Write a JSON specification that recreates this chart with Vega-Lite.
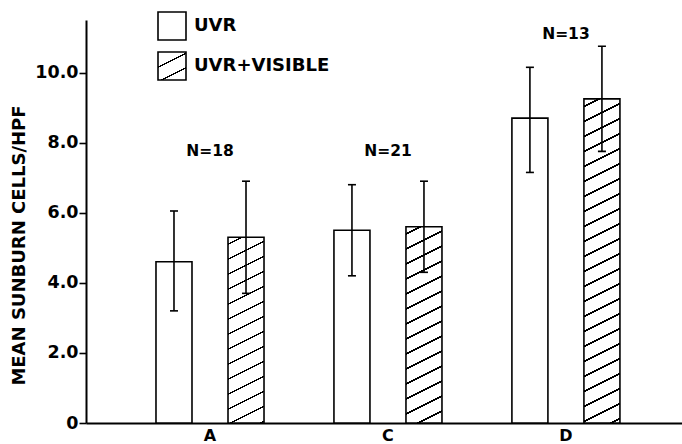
{
  "$schema": "https://vega.github.io/schema/vega-lite/v6.json",
  "autosize": {"type": "none"},
  "padding": {"left": 86, "top": 20, "right": 0, "bottom": 21},
  "width": 596,
  "height": 403,
  "background": "white",
  "config": {
    "view": {"stroke": null},
    "axis": {"domainColor": "black", "tickColor": "black", "labelColor": "black", "titleColor": "black", "grid": false,
      "labelFont": "DejaVu Sans", "labelFontWeight": "bold", "titleFont": "DejaVu Sans", "titleFontWeight": "bold"},
    "text": {"font": "DejaVu Sans"}
  },
  "data": {"values": [
    {"group": "A", "treatment": "UVR", "mean": 4.6, "lo": 3.2, "hi": 6.05},
    {"group": "A", "treatment": "UVR+VISIBLE", "mean": 5.3, "lo": 3.7, "hi": 6.9},
    {"group": "C", "treatment": "UVR", "mean": 5.5, "lo": 4.2, "hi": 6.8},
    {"group": "C", "treatment": "UVR+VISIBLE", "mean": 5.6, "lo": 4.3, "hi": 6.9},
    {"group": "D", "treatment": "UVR", "mean": 8.7, "lo": 7.15, "hi": 10.15},
    {"group": "D", "treatment": "UVR+VISIBLE", "mean": 9.25, "lo": 7.75, "hi": 10.75}
  ]},
  "encoding": {
    "x": {"field": "group", "type": "nominal", "sort": ["A", "C", "D"],
      "scale": {"paddingInner": 0.393, "paddingOuter": 0.371, "align": 0.53},
      "axis": {"title": null, "ticks": false, "labelAngle": 0, "labelFontSize": 16, "labelPadding": 4, "domainWidth": 2}},
    "y": {"type": "quantitative",
      "scale": {"domain": [0, 11.5], "nice": false, "zero": true},
      "axis": {"values": [0, 2, 4, 6, 8, 10], "labelExpr": "datum.value == 0 ? '0' : format(datum.value, '.1f')",
        "title": "MEAN SUNBURN CELLS/HPF", "titleFontSize": 18, "titleAngle": 270, "titleX": -67, "titleY": 225,
        "titleAlign": "center", "titleBaseline": "middle",
        "labelFontSize": 17.5, "labelPadding": 1, "tickSize": 7, "tickWidth": 1.6, "domainWidth": 2}}
  },
  "layer": [
    {
      "mark": {"type": "bar", "stroke": "black", "strokeWidth": 1.6},
      "encoding": {
        "xOffset": {"field": "treatment", "type": "nominal", "sort": ["UVR", "UVR+VISIBLE"], "scale": {"paddingInner": 0.5, "paddingOuter": 0}},
        "y": {"field": "mean", "type": "quantitative"},
        "fill": {
          "field": "treatment", "type": "nominal",
          "scale": {"domain": ["UVR", "UVR+VISIBLE"], "range": ["white", {"expr": "{gradient: 'linear', x1: 0, y1: 0, x2: 0.6, y2: 1.2, stops: [{offset: 0, color: 'white'}, {offset: 0.34, color: 'white'}, {offset: 0.34, color: 'black'}, {offset: 0.38, color: 'black'}, {offset: 0.38, color: 'white'}, {offset: 0.69, color: 'white'}, {offset: 0.69, color: 'black'}, {offset: 0.73, color: 'black'}, {offset: 0.73, color: 'white'}, {offset: 1, color: 'white'}]}"}]},
          "legend": {
            "orient": "none", "legendX": 71, "legendY": -9, "title": null,
            "symbolType": "square", "symbolSize": 784, "symbolStrokeColor": "black", "symbolStrokeWidth": 1.6,
            "symbolOpacity": 1,
            "labelFont": "DejaVu Sans", "labelFontWeight": "bold", "labelFontSize": 18, "labelColor": "black",
            "labelOffset": 7, "rowPadding": 4, "padding": 0
          },
          "condition": [
            {"test": "datum.group === 'A' && datum.treatment === 'UVR+VISIBLE'",
             "value": {"gradient": "linear", "x1": 0, "y1": 0, "x2": 0.10534, "y2": 1.08672, "stops": [
              {"offset": 0, "color": "white"},
              {"offset": 0.03, "color": "white"}, {"offset": 0.03, "color": "black"}, {"offset": 0.038, "color": "black"}, {"offset": 0.038, "color": "white"},
              {"offset": 0.1036, "color": "white"}, {"offset": 0.1036, "color": "black"}, {"offset": 0.1116, "color": "black"}, {"offset": 0.1116, "color": "white"},
              {"offset": 0.1773, "color": "white"}, {"offset": 0.1773, "color": "black"}, {"offset": 0.1853, "color": "black"}, {"offset": 0.1853, "color": "white"},
              {"offset": 0.2509, "color": "white"}, {"offset": 0.2509, "color": "black"}, {"offset": 0.2589, "color": "black"}, {"offset": 0.2589, "color": "white"},
              {"offset": 0.3246, "color": "white"}, {"offset": 0.3246, "color": "black"}, {"offset": 0.3326, "color": "black"}, {"offset": 0.3326, "color": "white"},
              {"offset": 0.3982, "color": "white"}, {"offset": 0.3982, "color": "black"}, {"offset": 0.4062, "color": "black"}, {"offset": 0.4062, "color": "white"},
              {"offset": 0.4718, "color": "white"}, {"offset": 0.4718, "color": "black"}, {"offset": 0.4798, "color": "black"}, {"offset": 0.4798, "color": "white"},
              {"offset": 0.5455, "color": "white"}, {"offset": 0.5455, "color": "black"}, {"offset": 0.5535, "color": "black"}, {"offset": 0.5535, "color": "white"},
              {"offset": 0.6191, "color": "white"}, {"offset": 0.6191, "color": "black"}, {"offset": 0.6271, "color": "black"}, {"offset": 0.6271, "color": "white"},
              {"offset": 0.6928, "color": "white"}, {"offset": 0.6928, "color": "black"}, {"offset": 0.7008, "color": "black"}, {"offset": 0.7008, "color": "white"},
              {"offset": 0.7664, "color": "white"}, {"offset": 0.7664, "color": "black"}, {"offset": 0.7744, "color": "black"}, {"offset": 0.7744, "color": "white"},
              {"offset": 0.84, "color": "white"}, {"offset": 0.84, "color": "black"}, {"offset": 0.848, "color": "black"}, {"offset": 0.848, "color": "white"},
              {"offset": 0.9137, "color": "white"}, {"offset": 0.9137, "color": "black"}, {"offset": 0.9217, "color": "black"}, {"offset": 0.9217, "color": "white"},
              {"offset": 0.9873, "color": "white"}, {"offset": 0.9873, "color": "black"}, {"offset": 0.9953, "color": "black"}, {"offset": 0.9953, "color": "white"},
              {"offset": 1, "color": "white"}
            ]}},
            {"test": "datum.group === 'C' && datum.treatment === 'UVR+VISIBLE'",
             "value": {"gradient": "linear", "x1": 0, "y1": 0, "x2": 0.09932, "y2": 1.08263, "stops": [
              {"offset": 0, "color": "white"},
              {"offset": 0.03, "color": "white"}, {"offset": 0.03, "color": "black"}, {"offset": 0.0375, "color": "black"}, {"offset": 0.0375, "color": "white"},
              {"offset": 0.1, "color": "white"}, {"offset": 0.1, "color": "black"}, {"offset": 0.1075, "color": "black"}, {"offset": 0.1075, "color": "white"},
              {"offset": 0.1701, "color": "white"}, {"offset": 0.1701, "color": "black"}, {"offset": 0.1776, "color": "black"}, {"offset": 0.1776, "color": "white"},
              {"offset": 0.2401, "color": "white"}, {"offset": 0.2401, "color": "black"}, {"offset": 0.2476, "color": "black"}, {"offset": 0.2476, "color": "white"},
              {"offset": 0.3101, "color": "white"}, {"offset": 0.3101, "color": "black"}, {"offset": 0.3176, "color": "black"}, {"offset": 0.3176, "color": "white"},
              {"offset": 0.3802, "color": "white"}, {"offset": 0.3802, "color": "black"}, {"offset": 0.3877, "color": "black"}, {"offset": 0.3877, "color": "white"},
              {"offset": 0.4502, "color": "white"}, {"offset": 0.4502, "color": "black"}, {"offset": 0.4577, "color": "black"}, {"offset": 0.4577, "color": "white"},
              {"offset": 0.5202, "color": "white"}, {"offset": 0.5202, "color": "black"}, {"offset": 0.5277, "color": "black"}, {"offset": 0.5277, "color": "white"},
              {"offset": 0.5902, "color": "white"}, {"offset": 0.5902, "color": "black"}, {"offset": 0.5977, "color": "black"}, {"offset": 0.5977, "color": "white"},
              {"offset": 0.6603, "color": "white"}, {"offset": 0.6603, "color": "black"}, {"offset": 0.6678, "color": "black"}, {"offset": 0.6678, "color": "white"},
              {"offset": 0.7303, "color": "white"}, {"offset": 0.7303, "color": "black"}, {"offset": 0.7378, "color": "black"}, {"offset": 0.7378, "color": "white"},
              {"offset": 0.8003, "color": "white"}, {"offset": 0.8003, "color": "black"}, {"offset": 0.8078, "color": "black"}, {"offset": 0.8078, "color": "white"},
              {"offset": 0.8704, "color": "white"}, {"offset": 0.8704, "color": "black"}, {"offset": 0.8779, "color": "black"}, {"offset": 0.8779, "color": "white"},
              {"offset": 0.9404, "color": "white"}, {"offset": 0.9404, "color": "black"}, {"offset": 0.9479, "color": "black"}, {"offset": 0.9479, "color": "white"},
              {"offset": 1, "color": "white"}
            ]}},
            {"test": "datum.group === 'D' && datum.treatment === 'UVR+VISIBLE'",
             "value": {"gradient": "linear", "x1": 0, "y1": 0, "x2": 0.05844, "y2": 1.05229, "stops": [
              {"offset": 0, "color": "white"},
              {"offset": 0.02, "color": "white"}, {"offset": 0.02, "color": "black"}, {"offset": 0.0247, "color": "black"}, {"offset": 0.0247, "color": "white"},
              {"offset": 0.0639, "color": "white"}, {"offset": 0.0639, "color": "black"}, {"offset": 0.0686, "color": "black"}, {"offset": 0.0686, "color": "white"},
              {"offset": 0.1077, "color": "white"}, {"offset": 0.1077, "color": "black"}, {"offset": 0.1124, "color": "black"}, {"offset": 0.1124, "color": "white"},
              {"offset": 0.1516, "color": "white"}, {"offset": 0.1516, "color": "black"}, {"offset": 0.1563, "color": "black"}, {"offset": 0.1563, "color": "white"},
              {"offset": 0.1954, "color": "white"}, {"offset": 0.1954, "color": "black"}, {"offset": 0.2001, "color": "black"}, {"offset": 0.2001, "color": "white"},
              {"offset": 0.2393, "color": "white"}, {"offset": 0.2393, "color": "black"}, {"offset": 0.244, "color": "black"}, {"offset": 0.244, "color": "white"},
              {"offset": 0.2831, "color": "white"}, {"offset": 0.2831, "color": "black"}, {"offset": 0.2878, "color": "black"}, {"offset": 0.2878, "color": "white"},
              {"offset": 0.327, "color": "white"}, {"offset": 0.327, "color": "black"}, {"offset": 0.3317, "color": "black"}, {"offset": 0.3317, "color": "white"},
              {"offset": 0.3708, "color": "white"}, {"offset": 0.3708, "color": "black"}, {"offset": 0.3755, "color": "black"}, {"offset": 0.3755, "color": "white"},
              {"offset": 0.4147, "color": "white"}, {"offset": 0.4147, "color": "black"}, {"offset": 0.4194, "color": "black"}, {"offset": 0.4194, "color": "white"},
              {"offset": 0.4585, "color": "white"}, {"offset": 0.4585, "color": "black"}, {"offset": 0.4632, "color": "black"}, {"offset": 0.4632, "color": "white"},
              {"offset": 0.5024, "color": "white"}, {"offset": 0.5024, "color": "black"}, {"offset": 0.5071, "color": "black"}, {"offset": 0.5071, "color": "white"},
              {"offset": 0.5462, "color": "white"}, {"offset": 0.5462, "color": "black"}, {"offset": 0.5509, "color": "black"}, {"offset": 0.5509, "color": "white"},
              {"offset": 0.5901, "color": "white"}, {"offset": 0.5901, "color": "black"}, {"offset": 0.5948, "color": "black"}, {"offset": 0.5948, "color": "white"},
              {"offset": 0.6339, "color": "white"}, {"offset": 0.6339, "color": "black"}, {"offset": 0.6386, "color": "black"}, {"offset": 0.6386, "color": "white"},
              {"offset": 0.6778, "color": "white"}, {"offset": 0.6778, "color": "black"}, {"offset": 0.6825, "color": "black"}, {"offset": 0.6825, "color": "white"},
              {"offset": 0.7216, "color": "white"}, {"offset": 0.7216, "color": "black"}, {"offset": 0.7263, "color": "black"}, {"offset": 0.7263, "color": "white"},
              {"offset": 0.7655, "color": "white"}, {"offset": 0.7655, "color": "black"}, {"offset": 0.7702, "color": "black"}, {"offset": 0.7702, "color": "white"},
              {"offset": 0.8093, "color": "white"}, {"offset": 0.8093, "color": "black"}, {"offset": 0.814, "color": "black"}, {"offset": 0.814, "color": "white"},
              {"offset": 0.8532, "color": "white"}, {"offset": 0.8532, "color": "black"}, {"offset": 0.8579, "color": "black"}, {"offset": 0.8579, "color": "white"},
              {"offset": 0.897, "color": "white"}, {"offset": 0.897, "color": "black"}, {"offset": 0.9017, "color": "black"}, {"offset": 0.9017, "color": "white"},
              {"offset": 0.9409, "color": "white"}, {"offset": 0.9409, "color": "black"}, {"offset": 0.9456, "color": "black"}, {"offset": 0.9456, "color": "white"},
              {"offset": 0.9847, "color": "white"}, {"offset": 0.9847, "color": "black"}, {"offset": 0.9894, "color": "black"}, {"offset": 0.9894, "color": "white"},
              {"offset": 1, "color": "white"}
            ]}}
          ]
        }
      }
    },
    {
      "mark": {"type": "rule", "color": "black", "strokeWidth": 1.6},
      "encoding": {
        "xOffset": {"field": "treatment", "type": "nominal", "sort": ["UVR", "UVR+VISIBLE"]},
        "y": {"field": "lo", "type": "quantitative"},
        "y2": {"field": "hi"}
      }
    },
    {
      "mark": {"type": "tick", "color": "black", "thickness": 1.6, "size": 8, "orient": "horizontal", "opacity": 1},
      "encoding": {
        "xOffset": {"field": "treatment", "type": "nominal", "sort": ["UVR", "UVR+VISIBLE"]},
        "y": {"field": "lo", "type": "quantitative"}
      }
    },
    {
      "mark": {"type": "tick", "color": "black", "thickness": 1.6, "size": 8, "orient": "horizontal", "opacity": 1},
      "encoding": {
        "xOffset": {"field": "treatment", "type": "nominal", "sort": ["UVR", "UVR+VISIBLE"]},
        "y": {"field": "hi", "type": "quantitative"}
      }
    },
    {
      "data": {"values": [
        {"group": "A", "label": "N=18", "at": 7.76},
        {"group": "C", "label": "N=21", "at": 7.76},
        {"group": "D", "label": "N=13", "at": 11.1}
      ]},
      "mark": {"type": "text", "font": "DejaVu Sans", "fontWeight": "bold", "fontSize": 15.5, "color": "black", "baseline": "middle", "align": "center"},
      "encoding": {
        "y": {"field": "at", "type": "quantitative"},
        "text": {"field": "label"}
      }
    }
  ]
}
